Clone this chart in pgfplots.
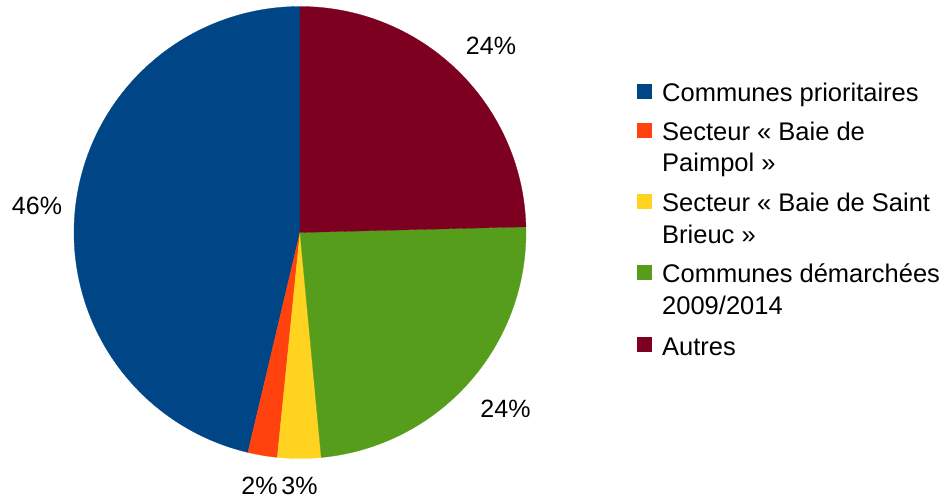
\documentclass[border=0pt]{standalone}
\usepackage{pgfplots}
\pgfplotsset{compat=1.18}
\usepackage{fontspec}
\setmainfont{Liberation Sans}
\definecolor{cblue}{HTML}{004586}
\definecolor{cred}{HTML}{FF420E}
\definecolor{cyellow}{HTML}{FFD320}
\definecolor{cgreen}{HTML}{579D1C}
\definecolor{cdark}{HTML}{7E0021}
% shares (percent), counter-clockwise from the top
\def\vA{46.3}\def\vB{2.1}\def\vC{3.1}\def\vD{23.9}\def\vE{24.6}
\pgfmathsetmacro\aA{90}
\pgfmathsetmacro\aB{\aA+3.6*\vA}
\pgfmathsetmacro\aC{\aB+3.6*\vB}
\pgfmathsetmacro\aD{\aC+3.6*\vC}
\pgfmathsetmacro\aE{\aD+3.6*\vD}
\pgfmathsetmacro\aF{\aE+3.6*\vE}
\begin{document}
\begin{tikzpicture}
\useasboundingbox (0pt,0pt) rectangle (947pt,501pt);
\begin{axis}[scale only axis, width=452pt, height=452pt,
  xmin=-1, xmax=1, ymin=-1, ymax=1, hide axis, clip=false,
  anchor=center, at={(300pt,268.5pt)}]
\addplot[fill=cblue, draw=cblue, line width=0.3pt, domain=\aA:\aB, samples=120, variable=\t] ({cos(\t)},{sin(\t)}) -- (axis cs:0,0) -- cycle;
\addplot[fill=cred, draw=cred, line width=0.3pt, domain=\aB:\aC, samples=12, variable=\t] ({cos(\t)},{sin(\t)}) -- (axis cs:0,0) -- cycle;
\addplot[fill=cyellow, draw=cyellow, line width=0.3pt, domain=\aC:\aD, samples=12, variable=\t] ({cos(\t)},{sin(\t)}) -- (axis cs:0,0) -- cycle;
\addplot[fill=cgreen, draw=cgreen, line width=0.3pt, domain=\aD:\aE, samples=60, variable=\t] ({cos(\t)},{sin(\t)}) -- (axis cs:0,0) -- cycle;
\addplot[fill=cdark, draw=cdark, line width=0.3pt, domain=\aE:\aF, samples=60, variable=\t] ({cos(\t)},{sin(\t)}) -- (axis cs:0,0) -- cycle;
\end{axis}
\begin{scope}[every node/.style={inner sep=0pt, font=\fontsize{25}{30}\selectfont}]
\node[anchor=base] at (491pt,446pt) {24\%};
\node[anchor=base] at (37pt,286pt) {46\%};
\node[anchor=base] at (505.5pt,84pt) {24\%};
\node[anchor=base] at (259.5pt,7pt) {2\%};
\node[anchor=base] at (299.5pt,7pt) {3\%};
\end{scope}
\begin{scope}[every node/.style={inner sep=0pt, anchor=base west, font=\fontsize{25.5}{31}\selectfont}]
\fill[cblue]   (637pt,401.5pt) rectangle (652pt,416.5pt);
\fill[cred]    (637pt,362.5pt) rectangle (652pt,377.5pt);
\fill[cyellow] (637pt,291.5pt) rectangle (652pt,306.5pt);
\fill[cgreen]  (637pt,221pt) rectangle (652pt,236pt);
\fill[cdark]   (637pt,149pt) rectangle (652pt,164pt);
\node at (662pt,399pt) {Communes prioritaires};
\node at (662pt,360pt) {Secteur « Baie de};
\node at (662pt,329pt) {Paimpol »};
\node at (662pt,289pt) {Secteur « Baie de Saint};
\node at (662pt,257pt) {Brieuc »};
\node at (662pt,218pt) {Communes démarchées};
\node at (662pt,186pt) {2009/2014};
\node at (662pt,146pt) {Autres};
\end{scope}
\end{tikzpicture}
\end{document}
